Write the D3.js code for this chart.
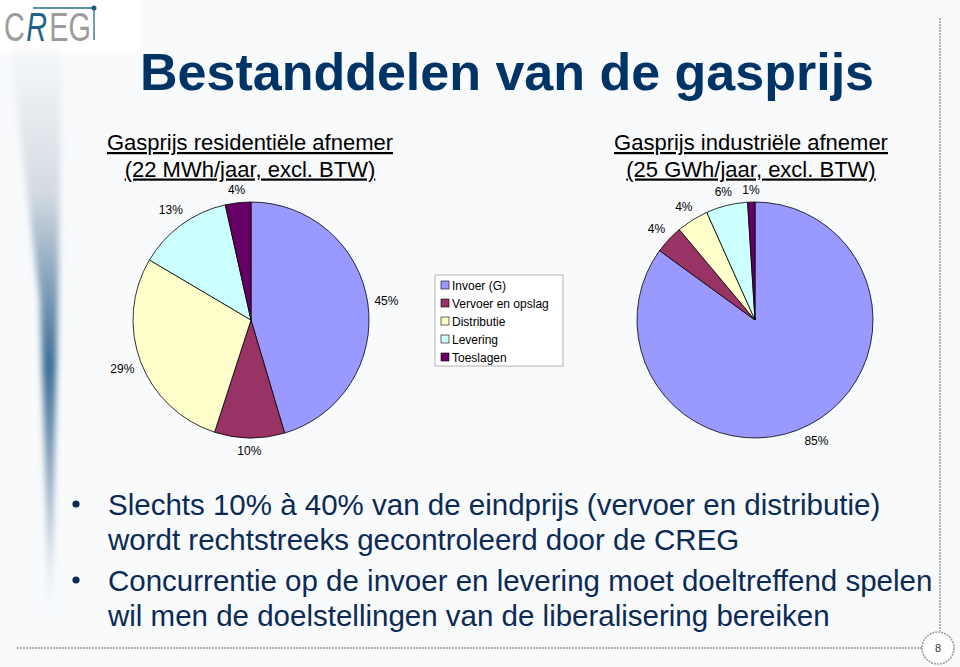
<!DOCTYPE html>
<html>
<head>
<meta charset="utf-8">
<script src="https://cdn.jsdelivr.net/npm/d3@7"></script>
<style>
  html, body { margin: 0; padding: 0; background: #ffffff; }
  svg { display: block; font-family: "Liberation Sans", Arial, sans-serif; }
</style>
</head>
<body>
<svg id="chart" width="960" height="667"></svg>
<script>
// ---------- data ----------
const categories = ["Invoer (G)", "Vervoer en opslag", "Distributie", "Levering", "Toeslagen"];
const residentialValues = [45.4, 9.6, 28.5, 13.0, 3.5];
const industrialValues = [85.0, 3.9, 4.4, 5.7, 1.0];
const sliceColors = ["#9999FF", "#993366", "#FFFFCC", "#CCFFFF", "#660066"];
const pageTitle = "Bestanddelen van de gasprijs";
const residentialTitle = ["Gasprijs residentiële afnemer", "(22 MWh/jaar, excl. BTW)"];
const industrialTitle = ["Gasprijs industriële afnemer", "(25 GWh/jaar, excl. BTW)"];
const bullets = [
  ["Slechts 10% à 40% van de eindprijs (vervoer en distributie)", "wordt rechtstreeks gecontroleerd door de CREG"],
  ["Concurrentie op de invoer en levering moet doeltreffend spelen", "wil men de doelstellingen van de liberalisering bereiken"]
];
const pageNumber = "8";

// ---------- drawing ----------
const svg = d3.select("#chart");
const defs = svg.append("defs");

svg.append("rect").attr("width", 960).attr("height", 667).attr("fill", "#f8fafc");
svg.append("rect").attr("width", 140).attr("height", 55).attr("fill", "#ffffff");

// left decorative wedge
const grad = defs.append("linearGradient").attr("id", "wedge").attr("x1", 0).attr("y1", 0).attr("x2", 0).attr("y2", 1);
grad.append("stop").attr("offset", "0%").attr("stop-color", "#f6f8fa");
grad.append("stop").attr("offset", "25%").attr("stop-color", "#d3dae2");
grad.append("stop").attr("offset", "55%").attr("stop-color", "#3d6e95");
grad.append("stop").attr("offset", "80%").attr("stop-color", "#a3b6ca");
grad.append("stop").attr("offset", "100%").attr("stop-color", "#f8fafc");
defs.append("filter").attr("id", "blur").append("feGaussianBlur").attr("stdDeviation", 3);
svg.append("path")
  .attr("d", "M10,50 L62,50 L58,300 L53,520 L50,625 L47,520 L40,300 Z")
  .attr("fill", "url(#wedge)").attr("filter", "url(#blur)");

// logo
const logoG = svg.append("g").attr("transform", "translate(4,41) scale(0.72,1)");
const logoParts = [
  { t: "C", x: 0, color: "#9c9c9c", style: "normal" },
  { t: "R", x: 31, color: "#1f6488", style: "italic" },
  { t: "EG", x: 63, color: "#9c9c9c", style: "normal" }
];
logoParts.forEach(p => {
  logoG.append("text").attr("x", p.x).attr("y", 0).attr("font-size", 40)
    .attr("fill", p.color).attr("font-style", p.style).text(p.t);
});
svg.append("line").attr("x1", 33).attr("y1", 8).attr("x2", 94).attr("y2", 8).attr("stroke", "#2a6a8a").attr("stroke-width", 1.3);
svg.append("line").attr("x1", 94).attr("y1", 8).attr("x2", 94).attr("y2", 40).attr("stroke", "#2a6a8a").attr("stroke-width", 1.3);
svg.append("circle").attr("cx", 94).attr("cy", 8).attr("r", 2.5).attr("fill", "#1f5a7a");

// dotted frame lines and page number
svg.append("line").attr("x1", 940).attr("y1", 18).attr("x2", 940).attr("y2", 631)
  .attr("stroke", "#9a9a9a").attr("stroke-width", 1.5).attr("stroke-dasharray", "2,1");
svg.append("line").attr("x1", 17).attr("y1", 648).attr("x2", 922).attr("y2", 648)
  .attr("stroke", "#9a9a9a").attr("stroke-width", 1.5).attr("stroke-dasharray", "2,1");
svg.append("circle").attr("cx", 938).attr("cy", 648).attr("r", 16).attr("fill", "#ffffff")
  .attr("stroke", "#9a9a9a").attr("stroke-width", 1.5).attr("stroke-dasharray", "2,1");
svg.append("text").attr("x", 938).attr("y", 652).attr("text-anchor", "middle")
  .attr("font-size", 11).attr("fill", "#333").text(pageNumber);

// main title
svg.append("text").attr("x", 140).attr("y", 90).attr("font-size", 52).attr("font-weight", "bold")
  .attr("fill", "#003366").text(pageTitle);

// pie titles
function pieTitle(lines, cx) {
  lines.forEach((t, i) => {
    svg.append("text").attr("x", cx).attr("y", 150 + i * 26.5).attr("text-anchor", "middle")
      .attr("font-size", 22).attr("fill", "#000").attr("text-decoration", "underline").text(t);
  });
}
pieTitle(residentialTitle, 250);
pieTitle(industrialTitle, 751);

// pies
const radius = 118;
const pie = d3.pie().sort(null).value(d => d);
const arc = d3.arc().innerRadius(0).outerRadius(radius);

function drawPie(values, cx, cy) {
  const g = svg.append("g").attr("transform", `translate(${cx},${cy})`);
  const arcs = pie(values);
  g.selectAll("path").data(arcs).join("path")
    .attr("d", arc)
    .attr("fill", (d, i) => sliceColors[i])
    .attr("stroke", "#000").attr("stroke-width", 0.8);
  arcs.forEach(d => {
    const a = (d.startAngle + d.endAngle) / 2;
    const t = g.append("text").attr("font-size", 12).attr("fill", "#000")
      .attr("text-anchor", "middle").text(Math.round(d.value) + "%");
    const hw = t.node().getComputedTextLength() / 2;
    const hh = 6.5;
    const r = radius + 6 + hw * Math.abs(Math.sin(a)) + hh * Math.abs(Math.cos(a));
    t.attr("x", r * Math.sin(a)).attr("y", -r * Math.cos(a) + 4.5);
  });
}
drawPie(residentialValues, 251, 320);
drawPie(industrialValues, 755, 320);

// legend
const lg = svg.append("g").attr("transform", "translate(435,275)");
lg.append("rect").attr("width", 128).attr("height", 91).attr("fill", "#ffffff").attr("stroke", "#a0a0a0").attr("stroke-width", 0.8);
categories.forEach((c, i) => {
  const y = 10 + i * 18;
  lg.append("rect").attr("x", 6).attr("y", y - 4).attr("width", 8).attr("height", 8)
    .attr("fill", sliceColors[i]).attr("stroke", "#000").attr("stroke-width", 0.6);
  lg.append("text").attr("x", 17).attr("y", y + 4.5).attr("font-size", 12).attr("fill", "#000").text(c);
});

// bullets
const bulletTop = [515, 591];
bullets.forEach((lines, bi) => {
  svg.append("circle").attr("cx", 76).attr("cy", bulletTop[bi] - 11).attr("r", 3.6).attr("fill", "#0b2a55");
  lines.forEach((t, li) => {
    svg.append("text").attr("x", 108).attr("y", bulletTop[bi] + li * 35).attr("font-size", 29.5)
      .attr("fill", "#0b2a55").text(t);
  });
});
</script>
</body>
</html>
